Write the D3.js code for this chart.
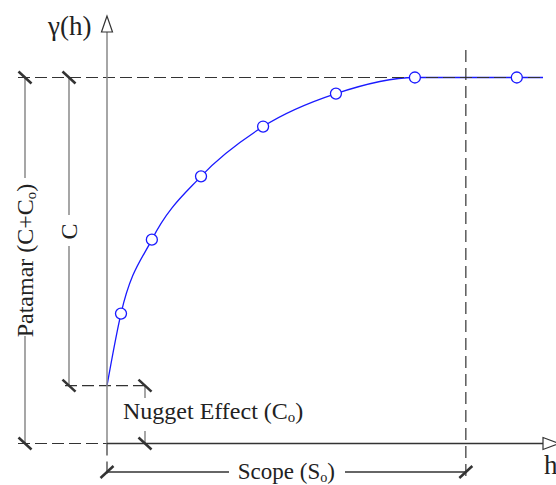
<!DOCTYPE html>
<html>
<head>
<meta charset="utf-8">
<script src="https://cdn.jsdelivr.net/npm/d3@7"></script>
<style>
  body { margin: 0; background: #fff; }
  text { font-family: "Liberation Serif", "Times New Roman", serif; fill: #222; }
</style>
</head>
<body>
<div id="chart"></div>
<script>
// sample lags and semivariance values
var lags = [0.39, 1.25, 2.62, 4.35, 6.38, 8.58, 11.42];
var gammas = [3.55, 5.57, 7.30, 8.66, 9.56, 10, 10];
var nugget = 1.58;
var sill = 10;
var range = 10;
var hMax = 12.15;

var width = 556, height = 485;

var x = d3.scaleLinear().domain([0, hMax]).range([107, 543]);
var y = d3.scaleLinear().domain([0, sill]).range([443.5, 77.5]);

var svg = d3.select('#chart').append('svg')
    .attr('width', width)
    .attr('height', height);

function line(x1, y1, x2, y2, color, w, dash) {
    return svg.append('line')
        .attr('x1', x1).attr('y1', y1).attr('x2', x2).attr('y2', y2)
        .attr('stroke', color)
        .attr('stroke-width', w)
        .attr('stroke-dasharray', dash || null);
}

// model curve
var curvePts = [[0, nugget]].concat(lags.map(function(d, i) { return [d, gammas[i]]; }));
curvePts.push([hMax, sill]);

svg.append('path')
    .datum(curvePts)
    .attr('fill', 'none')
    .attr('stroke', '#1a1aff')
    .attr('stroke-width', 1.3)
    .attr('d', d3.line()
        .x(function(d) { return x(d[0]); })
        .y(function(d) { return y(d[1]); })
        .curve(d3.curveMonotoneX));

// reference dashed lines
var dashCol = '#333';
line(18, y(sill), x(hMax), y(sill), dashCol, 1.2, '12,5');
line(18, y(0), x(0), y(0), dashCol, 1.2, '12,5');
line(65, y(nugget), 150, y(nugget), dashCol, 1.2, '12,5');
line(x(range), 50, x(range), 479, dashCol, 1.2, '12,6');
line(x(0), y(0), x(0), 479, dashCol, 1.2, '12,6');

// axes
line(x(0), y(0), x(0), 32, '#888', 1.5);
line(x(0), y(0), x(hMax), y(0), '#333', 1.5);
svg.append('path')
    .attr('d', 'M' + x(0) + ',16 L' + (x(0) - 5.5) + ',32 L' + (x(0) + 5.5) + ',32 Z')
    .attr('fill', '#fff').attr('stroke', '#333').attr('stroke-width', 1.2);
svg.append('path')
    .attr('d', 'M' + x(hMax) + ',' + (y(0) - 6) + ' L' + (x(hMax) + 16) + ',' + y(0) +
          ' L' + x(hMax) + ',' + (y(0) + 6) + ' Z')
    .attr('fill', '#fff').attr('stroke', '#333').attr('stroke-width', 1.2);

// dimension lines
var dimCol = '#777';
line(25, y(sill), 25, 178, dimCol, 1.3);
line(25, 336, 25, y(0), dimCol, 1.3);
line(69, y(sill), 69, 215, dimCol, 1.3);
line(69, 246, 69, y(nugget), dimCol, 1.3);
line(145, y(nugget), 145, 398, dimCol, 1.3);
line(145, 431, 145, y(0), dimCol, 1.3);
var scopeY = 472;
line(x(0), scopeY, 229, scopeY, '#333', 1.3);
line(345, scopeY, x(range), scopeY, '#333', 1.3);

// slash ticks
function slashV(cx, cy) { line(cx - 6.5, cy - 6, cx + 6.5, cy + 6, '#333', 2.5); }
function slashH(cx, cy) { line(cx - 6.5, cy + 6, cx + 6.5, cy - 6, '#333', 2.5); }
slashV(25, y(sill)); slashV(25, y(0));
slashV(69, y(sill)); slashV(69, y(nugget));
slashV(145, y(nugget)); slashV(145, y(0));
slashH(x(0), scopeY); slashH(x(range), scopeY);

// sample points
svg.selectAll('circle.pt')
    .data(lags)
    .enter()
    .append('circle')
    .attr('class', 'pt')
    .attr('cx', function(d) { return x(d); })
    .attr('cy', function(d, i) { return y(gammas[i]); })
    .attr('r', 5.5)
    .attr('fill', '#fff')
    .attr('stroke', '#1a1aff')
    .attr('stroke-width', 1.3);

// labels
svg.append('text').attr('x', 48).attr('y', 35).attr('font-size', 27).text('γ(h)');
svg.append('text').attr('x', 544).attr('y', 474).attr('font-size', 27).text('h');

function subLabel(t, before, after, fs) {
    t.append('tspan').text(before);
    t.append('tspan').attr('font-size', fs * 0.62).attr('dy', 3).text('o');
    t.append('tspan').attr('dy', -3).text(after);
    return t;
}

subLabel(svg.append('text').attr('x', 123).attr('y', 419).attr('font-size', 24),
    'Nugget Effect (C', ')', 24);
subLabel(svg.append('text').attr('x', (x(0) + x(range)) / 2).attr('y', 479)
    .attr('text-anchor', 'middle').attr('font-size', 23),
    'Scope (S', ')', 23);
subLabel(svg.append('text').attr('transform', 'translate(33,' + ((y(sill) + y(0)) / 2) + ') rotate(-90)')
    .attr('text-anchor', 'middle').attr('font-size', 24),
    'Patamar (C+C', ')', 24);
svg.append('text').attr('transform', 'translate(77,' + ((y(sill) + y(nugget)) / 2) + ') rotate(-90)')
    .attr('text-anchor', 'middle').attr('font-size', 24).text('C');
</script>
</body>
</html>
